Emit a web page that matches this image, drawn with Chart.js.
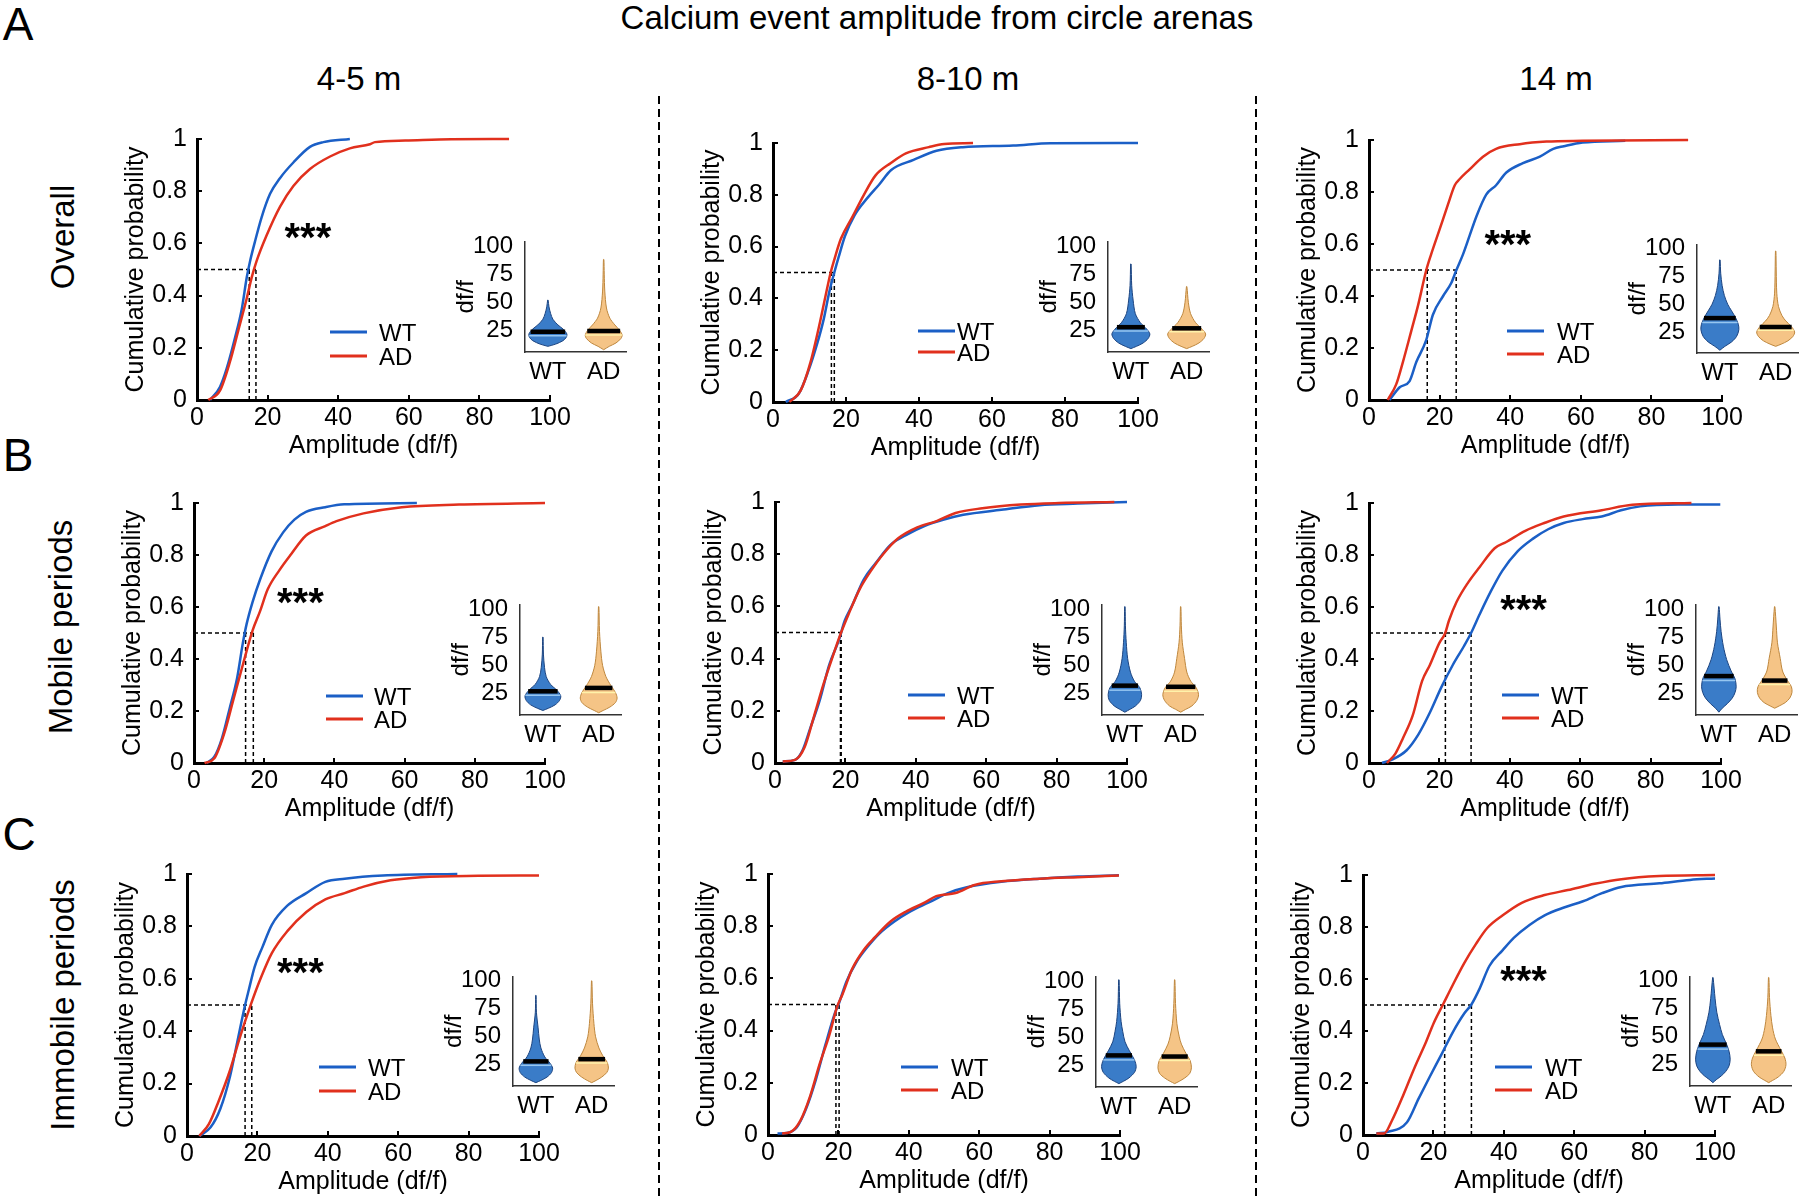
<!DOCTYPE html>
<html>
<head>
<meta charset="utf-8">
<script src="https://cdn.jsdelivr.net/npm/chart.js@4.4.0/dist/chart.umd.min.js"></script>
<style>
	body { margin: 0; background: #fff; }
	#fig { position: relative; width: 1800px; height: 1198px; overflow: hidden; background: #fff;
		font-family: "Liberation Sans", Arial, sans-serif; color: #000; }
	.lbl { position: absolute; white-space: nowrap; line-height: 1; }
	canvas { position: absolute; }
	.sep { position: absolute; width: 2px;
		background: repeating-linear-gradient(to bottom, #000 0 8px, transparent 8px 13px); }
</style>
</head>
<body>
<div id="fig"></div>
<script>
// ---- axis / category data ----
const groups = ["WT", "AD"];
const ampTicks = [0, 20, 40, 60, 80, 100];
const probTicks = [0, 0.2, 0.4, 0.6, 0.8, 1];
const dffTicks = [25, 50, 75, 100];
const rowNames = ["Overall", "Mobile periods", "Immobile periods"];
const colNames = ["4-5 m", "8-10 m", "14 m"];

// ---- A: overall ----
const a1WtAmp = [3.7, 6.5, 8.4, 10.8, 12.7, 14.1, 15.0, 16.4, 18.3, 20.7, 23.5, 27.3, 32.0, 35.8, 43.3];
const a1WtProb = [0, 0.05, 0.12, 0.24, 0.35, 0.47, 0.53, 0.606, 0.70, 0.79, 0.85, 0.91, 0.97, 0.988, 1];
const a1AdAmp = [3.2, 6.5, 9.3, 11.7, 14.1, 15.5, 16.9, 19.7, 23.5, 27.3, 32.0, 37.7, 43.3, 49.0, 50.4, 59.0, 72.0, 88.4];
const a1AdProb = [0, 0.036, 0.145, 0.267, 0.39, 0.47, 0.533, 0.63, 0.74, 0.82, 0.885, 0.933, 0.964, 0.98, 0.988, 0.994, 0.999, 1];
const a1Median = [14.8, 16.7];

const a2WtAmp = [3.5, 7.1, 9.7, 12.0, 13.9, 15.5, 16.8, 18.0, 19.7, 22.3, 26.0, 29.1, 32.3, 38.5, 44.8, 52.0, 65.8, 76.0, 100];
const a2WtProb = [0, 0.033, 0.12, 0.22, 0.32, 0.43, 0.5, 0.56, 0.64, 0.72, 0.79, 0.84, 0.895, 0.935, 0.97, 0.984, 0.99, 0.999, 1];
const a2AdAmp = [4.5, 7.6, 10.3, 12.9, 15.0, 15.8, 16.8, 18.6, 21.8, 24.9, 28.1, 32.3, 36.4, 42.7, 46.9, 54.8];
const a2AdProb = [0, 0.045, 0.155, 0.31, 0.45, 0.5, 0.55, 0.63, 0.716, 0.8, 0.875, 0.923, 0.96, 0.984, 0.996, 1];
const a2Median = [16.8, 16.0];

const a3WtAmp = [5.8, 8.7, 11.5, 13.4, 16.2, 18.1, 21.0, 23.3, 24.7, 26.6, 28.5, 30.4, 33.2, 36.0, 38.9, 43.6, 48.4, 52.2, 55.2, 60.5, 72.6];
const a3WtProb = [0, 0.049, 0.073, 0.146, 0.23, 0.328, 0.4, 0.45, 0.498, 0.559, 0.632, 0.705, 0.79, 0.826, 0.875, 0.911, 0.936, 0.966, 0.976, 0.99, 0.997];
const a3AdAmp = [5.3, 7.7, 9.6, 12.0, 13.9, 16.2, 17.6, 20.0, 22.4, 24.3, 25.7, 28.5, 32.3, 36.0, 42.7, 50.3, 60.5, 90.4];
const a3AdProb = [0, 0.06, 0.146, 0.267, 0.364, 0.498, 0.56, 0.656, 0.753, 0.826, 0.85, 0.887, 0.936, 0.966, 0.984, 0.994, 0.997, 1];
const a3Median = [24.7, 16.5];

// ---- B: mobile periods ----
const b1WtAmp = [3.6, 5.8, 8.0, 10.1, 12.3, 13.9, 15.0, 16.7, 18.8, 22.1, 25.4, 28.6, 31.9, 37.4, 42.8, 63.5];
const b1WtProb = [0, 0.024, 0.097, 0.207, 0.328, 0.46, 0.535, 0.62, 0.705, 0.814, 0.887, 0.936, 0.966, 0.984, 0.995, 1];
const b1AdAmp = [3.0, 5.8, 8.5, 11.2, 13.9, 16.7, 18.8, 21.0, 24.3, 27.6, 31.9, 37.4, 40.6, 48.3, 59.2, 75.5, 100];
const b1AdProb = [0, 0.018, 0.109, 0.243, 0.377, 0.51, 0.583, 0.668, 0.741, 0.802, 0.875, 0.911, 0.93, 0.96, 0.984, 0.994, 1];
const b1Median = [14.7, 16.9];

const b2WtAmp = [2.2, 5.7, 7.8, 10.0, 12.7, 15.4, 18.2, 19.8, 22.0, 25.2, 28.5, 32.8, 37.2, 42.6, 48.0, 53.5, 64.3, 75.2, 86.0, 100];
const b2WtProb = [0.006, 0.012, 0.048, 0.133, 0.24, 0.376, 0.473, 0.545, 0.606, 0.703, 0.764, 0.836, 0.873, 0.909, 0.933, 0.951, 0.97, 0.988, 0.994, 1];
const b2AdAmp = [2.2, 5.7, 8.4, 11.1, 13.8, 16.5, 18.7, 20.9, 24.1, 27.4, 30.7, 35.0, 40.4, 45.9, 51.3, 58.9, 69.8, 80.7, 96.4];
const b2AdProb = [0.006, 0.012, 0.06, 0.18, 0.303, 0.412, 0.497, 0.57, 0.667, 0.739, 0.8, 0.861, 0.903, 0.927, 0.958, 0.976, 0.99, 0.996, 1];
const b2Median = [18.8, 18.6];

const b3WtAmp = [3.7, 6.4, 10.7, 14.0, 17.3, 20.5, 23.8, 27.0, 29.0, 31.4, 34.6, 37.9, 42.2, 46.6, 50.9, 55.3, 60.7, 66.1, 71.6, 77.0, 87.8, 99.8];
const b3WtProb = [0, 0.012, 0.049, 0.109, 0.194, 0.29, 0.377, 0.45, 0.5, 0.571, 0.66, 0.74, 0.814, 0.863, 0.899, 0.923, 0.938, 0.948, 0.972, 0.987, 0.994, 0.994];
const b3AdAmp = [5.1, 7.5, 9.7, 12.4, 15.1, 17.3, 20.0, 21.6, 22.7, 24.9, 28.1, 31.4, 35.7, 39.0, 44.4, 49.8, 55.3, 66.1, 74.8, 91.6];
const b3AdProb = [0, 0.036, 0.097, 0.182, 0.316, 0.377, 0.462, 0.498, 0.547, 0.62, 0.693, 0.753, 0.826, 0.85, 0.893, 0.923, 0.948, 0.972, 0.993, 1];
const b3Median = [29.0, 21.7];

// ---- C: immobile periods ----
const c1WtAmp = [3.5, 6.7, 9.5, 12.2, 14.3, 16.5, 17.6, 19.2, 21.4, 24.1, 28.5, 33.9, 39.3, 44.8, 55.7, 76.8];
const c1WtProb = [0, 0.033, 0.105, 0.226, 0.36, 0.5, 0.56, 0.645, 0.72, 0.806, 0.879, 0.927, 0.97, 0.982, 0.994, 1];
const c1AdAmp = [3.5, 6.2, 8.9, 12.2, 14.9, 18.2, 20.9, 24.1, 28.5, 33.9, 39.3, 44.8, 50.2, 57.8, 66.5, 82.8, 100];
const c1AdProb = [0, 0.045, 0.13, 0.25, 0.371, 0.504, 0.601, 0.698, 0.782, 0.855, 0.903, 0.927, 0.952, 0.976, 0.988, 0.993, 0.994];
const c1Median = [16.5, 18.4];

const c2WtAmp = [2.7, 5.4, 8.2, 10.9, 13.6, 16.3, 19.0, 20.1, 22.3, 25.0, 28.3, 31.5, 35.9, 40.2, 45.7, 51.1, 56.5, 66.3, 77.2, 88.0, 99.7];
const c2WtProb = [0.006, 0.008, 0.03, 0.103, 0.212, 0.345, 0.467, 0.503, 0.588, 0.66, 0.721, 0.77, 0.818, 0.855, 0.891, 0.927, 0.949, 0.97, 0.982, 0.99, 0.995];
const c2AdAmp = [4.0, 6.5, 9.2, 12.0, 14.7, 17.4, 19.6, 21.2, 23.9, 27.2, 30.4, 34.8, 39.1, 44.6, 47.8, 53.3, 58.7, 66.3, 77.2, 88.0, 99.7];
const c2AdProb = [0.006, 0.012, 0.055, 0.15, 0.273, 0.382, 0.49, 0.54, 0.636, 0.709, 0.758, 0.818, 0.855, 0.891, 0.915, 0.927, 0.958, 0.972, 0.982, 0.988, 0.994];
const c2Median = [20.2, 19.3];

const c3WtAmp = [3.8, 7.1, 12.5, 15.8, 19.0, 22.3, 25.5, 28.8, 30.8, 33.2, 35.9, 39.7, 42.9, 47.3, 51.6, 57.1, 62.5, 67.9, 73.4, 84.2, 92.9, 100];
const c3WtProb = [0.006, 0.012, 0.049, 0.14, 0.225, 0.31, 0.395, 0.468, 0.502, 0.565, 0.65, 0.711, 0.759, 0.808, 0.845, 0.875, 0.899, 0.93, 0.954, 0.968, 0.981, 0.987];
const c3AdAmp = [3.8, 6.0, 8.2, 11.4, 14.7, 17.9, 20.1, 22.8, 25.5, 28.8, 32.1, 35.3, 39.7, 45.1, 51.6, 58.2, 65.8, 73.4, 84.2, 100];
const c3AdProb = [0.006, 0.006, 0.055, 0.152, 0.261, 0.358, 0.431, 0.504, 0.577, 0.662, 0.735, 0.796, 0.845, 0.893, 0.923, 0.942, 0.966, 0.984, 0.996, 1];
const c3Median = [30.8, 23.2];

// ---- violin insets: df/f levels, half widths, median bar, light line ----
const a1WtVioV = [11, 13, 16, 19, 22, 26, 30, 35, 40, 46, 52];
const a1WtVioW = [0, 0.14, 0.27, 0.33, 0.34, 0.28, 0.18, 0.09, 0.05, 0.02, 0.004];
const a1AdVioV = [8, 11, 14, 18, 21, 25, 30, 36, 45, 60, 75, 88];
const a1AdVioW = [0, 0.1, 0.22, 0.31, 0.33, 0.29, 0.2, 0.11, 0.05, 0.02, 0.01, 0.004];
const a1Bars = [24, 24.5];
const a1Light = [20.5, 21];

const a2WtVioV = [9, 11, 14, 18, 22, 26, 32, 40, 52, 65, 84];
const a2WtVioW = [0, 0.1, 0.22, 0.31, 0.34, 0.29, 0.17, 0.08, 0.04, 0.015, 0.004];
const a2AdVioV = [9, 11, 14, 18, 22, 26, 32, 40, 50, 64];
const a2AdVioW = [0, 0.1, 0.22, 0.31, 0.34, 0.28, 0.16, 0.07, 0.03, 0.004];
const a2Bars = [28, 27];
const a2Light = [24.5, 24];

const a3WtVioV = [8.5, 12, 16, 21, 27, 32, 38, 44, 50, 58, 67, 78, 90];
const a3WtVioW = [0, 0.09, 0.21, 0.3, 0.34, 0.33, 0.28, 0.21, 0.14, 0.08, 0.04, 0.015, 0.004];
const a3AdVioV = [12, 14, 17, 21, 25, 30, 35, 40, 48, 60, 80, 98];
const a3AdVioW = [0, 0.1, 0.22, 0.31, 0.34, 0.28, 0.18, 0.11, 0.05, 0.02, 0.01, 0.004];
const a3Bars = [37.5, 29.5];
const a3Light = [33.5, 26.5];

const b1WtVioV = [10, 12, 15, 19, 23, 28, 33, 40, 48, 60, 75];
const b1WtVioW = [0, 0.1, 0.22, 0.3, 0.32, 0.25, 0.14, 0.06, 0.03, 0.01, 0.004];
const b1AdVioV = [8, 10, 13, 17, 21, 26, 32, 40, 50, 62, 80, 102];
const b1AdVioW = [0, 0.08, 0.2, 0.3, 0.33, 0.3, 0.22, 0.13, 0.07, 0.04, 0.015, 0.004];
const b1Bars = [27, 30];
const b1Light = [23.5, 26];

const b2WtVioV = [8.5, 11, 14, 19, 24, 30, 36, 44, 56, 70, 85, 102];
const b2WtVioW = [0, 0.09, 0.19, 0.28, 0.3, 0.27, 0.17, 0.1, 0.05, 0.025, 0.01, 0.004];
const b2AdVioV = [8.5, 11, 14, 19, 24, 30, 36, 44, 56, 70, 85, 102];
const b2AdVioW = [0, 0.09, 0.2, 0.29, 0.32, 0.28, 0.18, 0.11, 0.07, 0.03, 0.012, 0.004];
const b2Bars = [32, 31];
const b2Light = [28, 27];

const b3WtVioV = [8.5, 12, 16, 21, 26, 31, 38, 45, 55, 67, 80, 91, 102];
const b3WtVioW = [0, 0.06, 0.15, 0.24, 0.29, 0.31, 0.29, 0.22, 0.14, 0.08, 0.04, 0.02, 0.004];
const b3AdVioV = [12, 14, 17, 21, 26, 31, 38, 45, 56, 70, 84, 102];
const b3AdVioW = [0, 0.08, 0.19, 0.27, 0.31, 0.3, 0.21, 0.14, 0.1, 0.05, 0.03, 0.004];
const b3Bars = [40.5, 36.5];
const b3Light = [36.5, 33];

const c1WtVioV = [9, 11, 14, 18, 22, 26, 32, 40, 48, 58, 72, 87];
const c1WtVioW = [0, 0.09, 0.2, 0.28, 0.3, 0.26, 0.16, 0.09, 0.06, 0.04, 0.01, 0.004];
const c1AdVioV = [9, 11, 14, 18, 22, 27, 33, 40, 50, 62, 80, 100];
const c1AdVioW = [0, 0.08, 0.18, 0.27, 0.3, 0.28, 0.2, 0.13, 0.07, 0.04, 0.015, 0.004];
const c1Bars = [28, 30];
const c1Light = [24.5, 26.5];

const c2WtVioV = [9, 11, 14, 19, 24, 30, 38, 46, 55, 64, 80, 101];
const c2WtVioW = [0, 0.08, 0.18, 0.28, 0.31, 0.28, 0.19, 0.11, 0.07, 0.04, 0.015, 0.004];
const c2AdVioV = [9, 11, 14, 18, 23, 29, 36, 44, 51, 62, 80, 101];
const c2AdVioW = [0, 0.08, 0.18, 0.27, 0.3, 0.28, 0.2, 0.12, 0.08, 0.04, 0.015, 0.004];
const c2Bars = [34, 33];
const c2Light = [30, 29.5];

const c3WtVioV = [9, 12, 15, 19, 24, 30, 37, 44, 52, 61, 72, 84, 103];
const c3WtVioW = [0, 0.07, 0.15, 0.23, 0.29, 0.31, 0.29, 0.24, 0.17, 0.12, 0.07, 0.04, 0.004];
const c3AdVioV = [9, 11, 14, 19, 25, 31, 38, 48, 58, 69, 85, 103];
const c3AdVioW = [0, 0.07, 0.17, 0.27, 0.31, 0.29, 0.22, 0.12, 0.07, 0.04, 0.015, 0.004];
const c3Bars = [43, 37];
const c3Light = [39, 33.5];

// panels in reading order (row A, B, C; columns 4-5 m, 8-10 m, 14 m)
const panels = [
	{ wt: [a1WtAmp, a1WtProb], ad: [a1AdAmp, a1AdProb], med: a1Median, vio: [[a1WtVioV, a1WtVioW], [a1AdVioV, a1AdVioW]], bars: a1Bars, light: a1Light },
	{ wt: [a2WtAmp, a2WtProb], ad: [a2AdAmp, a2AdProb], med: a2Median, vio: [[a2WtVioV, a2WtVioW], [a2AdVioV, a2AdVioW]], bars: a2Bars, light: a2Light },
	{ wt: [a3WtAmp, a3WtProb], ad: [a3AdAmp, a3AdProb], med: a3Median, vio: [[a3WtVioV, a3WtVioW], [a3AdVioV, a3AdVioW]], bars: a3Bars, light: a3Light },
	{ wt: [b1WtAmp, b1WtProb], ad: [b1AdAmp, b1AdProb], med: b1Median, vio: [[b1WtVioV, b1WtVioW], [b1AdVioV, b1AdVioW]], bars: b1Bars, light: b1Light },
	{ wt: [b2WtAmp, b2WtProb], ad: [b2AdAmp, b2AdProb], med: b2Median, vio: [[b2WtVioV, b2WtVioW], [b2AdVioV, b2AdVioW]], bars: b2Bars, light: b2Light },
	{ wt: [b3WtAmp, b3WtProb], ad: [b3AdAmp, b3AdProb], med: b3Median, vio: [[b3WtVioV, b3WtVioW], [b3AdVioV, b3AdVioW]], bars: b3Bars, light: b3Light },
	{ wt: [c1WtAmp, c1WtProb], ad: [c1AdAmp, c1AdProb], med: c1Median, vio: [[c1WtVioV, c1WtVioW], [c1AdVioV, c1AdVioW]], bars: c1Bars, light: c1Light },
	{ wt: [c2WtAmp, c2WtProb], ad: [c2AdAmp, c2AdProb], med: c2Median, vio: [[c2WtVioV, c2WtVioW], [c2AdVioV, c2AdVioW]], bars: c2Bars, light: c2Light },
	{ wt: [c3WtAmp, c3WtProb], ad: [c3AdAmp, c3AdProb], med: c3Median, vio: [[c3WtVioV, c3WtVioW], [c3AdVioV, c3AdVioW]], bars: c3Bars, light: c3Light },
];

// page placement of each panel: plot box [left, right, top, bottom], inset [axisX, top, bottom]
const layout = [
	{ box: [197, 550, 125, 400], inset: [525, 227, 352], legX: 133, legGap: 12, legDy: [68, 44], stars: [31.4, 0.655] },
	{ box: [773, 1138, 129, 402], inset: [1108, 227, 352], legX: 145, legGap: 2, legDy: [71, 50], stars: null },
	{ box: [1369, 1722, 126, 400], inset: [1697, 230, 353], legX: 138, legGap: 13, legDy: [69, 46], stars: [39.3, 0.632] },
	{ box: [194, 545, 489, 763], inset: [520, 590, 715], legX: 132, legGap: 11, legDy: [67, 44], stars: [30.3, 0.65] },
	{ box: [775, 1127, 488, 763], inset: [1102, 590, 715], legX: 133, legGap: 12, legDy: [68, 45], stars: null },
	{ box: [1369, 1721, 489, 763], inset: [1696, 590, 715], legX: 133, legGap: 12, legDy: [68, 45], stars: [43.9, 0.625] },
	{ box: [187, 539, 860, 1136], inset: [513, 962, 1086], legX: 132, legGap: 12, legDy: [69, 45], stars: [32.2, 0.656] },
	{ box: [768, 1120, 860, 1135], inset: [1096, 962, 1087], legX: 133, legGap: 13, legDy: [68, 45], stars: null },
	{ box: [1363, 1715, 861, 1135], inset: [1690, 962, 1086], legX: 132, legGap: 13, legDy: [68, 45], stars: [45.6, 0.626] },
];

const FONT = '"Liberation Sans", Arial, sans-serif';
const LINE_COL = ["#1b5fc6", "#e1301d"];
const VIO_FILL = ["rgb(58,124,200)", "rgb(245,196,134)"];
const VIO_EDGE = ["rgb(28,68,128)", "rgb(190,135,62)"];
const VIO_LIGHT = ["rgb(150,198,240)", "rgb(255,242,170)"];

Chart.defaults.font.family = FONT;
Chart.defaults.color = "#000";
Chart.defaults.animation = false;
Chart.defaults.plugins.legend.display = false;
Chart.defaults.plugins.tooltip.enabled = false;

const fig = document.getElementById("fig");

function addCanvas(x, y, w, h) {
	const cv = document.createElement("canvas");
	cv.width = w;
	cv.height = h;
	cv.style.left = x + "px";
	cv.style.top = y + "px";
	cv.style.width = w + "px";
	cv.style.height = h + "px";
	fig.appendChild(cv);
	return cv;
}

function label(text, x, y, size, rotate) {
	const el = document.createElement("div");
	el.className = "lbl";
	el.textContent = text;
	el.style.fontSize = size + "px";
	el.style.left = x + "px";
	el.style.top = y + "px";
	el.style.transform = "translate(-50%,-50%)" + (rotate ? " rotate(-90deg)" : "");
	fig.appendChild(el);
}

function toPts(xs, ys) {
	return xs.map((x, i) => ({ x: x, y: ys[i] }));
}

// outline of a violin: up the right side, back down the left side
function violinPts(c, v, w) {
	const right = v.map((y, i) => ({ x: c + w[i], y: y }));
	const left = v.map((y, i) => ({ x: c - w[i], y: y })).reverse();
	return right.concat(left);
}

function widthAt(v, w, y) {
	for (let i = 1; i < v.length; i++) {
		if (y <= v[i]) {
			const t = (y - v[i - 1]) / (v[i] - v[i - 1]);
			return w[i - 1] + t * (w[i] - w[i - 1]);
		}
	}
	return 0;
}

// legend lines + significance stars
const decor = {
	id: "decor",
	afterDatasetsDraw(chart, args, opts) {
		const ctx = chart.ctx;
		const area = chart.chartArea;
		ctx.save();
		if (opts.legX != null) {
			chart.data.datasets.filter((d) => groups.includes(d.label)).forEach((d, i) => {
				const x = area.left + opts.legX;
				const y = area.bottom - opts.legDy[i];
				ctx.strokeStyle = d.borderColor;
				ctx.lineWidth = 3;
				ctx.beginPath();
				ctx.moveTo(x, y);
				ctx.lineTo(x + 37, y);
				ctx.stroke();
				ctx.fillStyle = "#000";
				ctx.font = "24px " + FONT;
				ctx.textAlign = "left";
				ctx.textBaseline = "alphabetic";
				ctx.fillText(d.label, x + 37 + opts.legGap, y + 8.6);
			});
		}
		if (opts.stars) {
			const sx = chart.scales.x.getPixelForValue(opts.stars[0]);
			const sy = chart.scales.y.getPixelForValue(opts.stars[1]);
			ctx.fillStyle = "#000";
			ctx.font = "bold 40px " + FONT;
			ctx.textAlign = "center";
			ctx.textBaseline = "alphabetic";
			ctx.fillText("***", sx, sy + 22);
		}
		ctx.restore();
	},
};

function makeCdf(i) {
	const L = layout[i];
	const d = panels[i];
	const yW = 100, xH = 70, padT = 16, padR = 30;
	const w = L.box[1] - L.box[0];
	const h = L.box[3] - L.box[2];
	const cv = addCanvas(L.box[0] - yW, L.box[2] - padT, yW + w + padR, padT + h + xH);
	const far = Math.max(d.med[0], d.med[1]);
	const dash = (pts) => ({ data: pts, showLine: true, borderColor: "#000", borderWidth: 1.5, borderDash: [4, 3], pointRadius: 0, order: 2, clip: false });
	const curve = (lbl, xy, col, order) => ({ label: lbl, data: toPts(xy[0], xy[1]), showLine: true, cubicInterpolationMode: "monotone",
		borderColor: col, borderWidth: 2.5, pointRadius: 0, order: order, clip: 4 });
	const datasets = [
		curve("WT", d.wt, LINE_COL[0], 1),
		curve("AD", d.ad, LINE_COL[1], 0),
		dash([{ x: 0, y: 0.5 }, { x: far, y: 0.5 }]),
		dash([{ x: d.med[0], y: 0 }, { x: d.med[0], y: 0.5 }]),
		dash([{ x: d.med[1], y: 0 }, { x: d.med[1], y: 0.5 }]),
	];
	new Chart(cv, {
		type: "scatter",
		data: { datasets: datasets },
		plugins: [decor],
		options: {
			responsive: false,
			layout: { padding: { left: 0, top: padT, right: padR, bottom: 0 } },
			plugins: { decor: { legX: L.legX, legGap: L.legGap, legDy: L.legDy, stars: L.stars } },
			scales: {
				x: {
					type: "linear", min: 0, max: 100,
					afterFit: (s) => { s.height = xH; },
					afterBuildTicks: (s) => { s.ticks = ampTicks.map((v) => ({ value: v })); },
					ticks: { font: { size: 25 }, padding: 8, maxRotation: 0, color: "#000" },
					grid: { drawOnChartArea: false, drawTicks: true, tickLength: -5, color: "#000", lineWidth: 2 },
					border: { color: "#000", width: 3 },
					title: { display: true, text: "Amplitude (df/f)", font: { size: 25 }, color: "#000", padding: { top: 0, bottom: 9 } },
				},
				y: {
					type: "linear", min: 0, max: 1,
					afterFit: (s) => { s.width = yW; },
					afterBuildTicks: (s) => { s.ticks = probTicks.map((v) => ({ value: v })); },
					ticks: { font: { size: 25 }, padding: 15, color: "#000", callback: (v) => String(v) },
					grid: { drawOnChartArea: false, drawTicks: true, tickLength: -5, color: "#000", lineWidth: 2 },
					border: { color: "#000", width: 3 },
					title: { display: true, text: "Cumulative probability", font: { size: 25 }, color: "#000", padding: { top: 24, bottom: 0 } },
				},
			},
		},
	});
}

function makeViolin(i) {
	const L = layout[i];
	const d = panels[i];
	const yW = 80, xH = 44, padT = 12, padR = 12;
	const left = L.inset[0], top = L.inset[1], bottom = L.inset[2];
	const w = 101;
	const h = bottom - top;
	const cv = addCanvas(left - yW, top - padT, yW + w + padR, padT + h + xH);
	const datasets = [];
	d.vio.forEach((v, k) => {
		const c = k + 0.5;
		datasets.push({ data: violinPts(c, v[0], v[1]), showLine: true, fill: "shape", tension: 0.3,
			backgroundColor: VIO_FILL[k], borderColor: VIO_EDGE[k], borderWidth: 1, pointRadius: 0, clip: false, order: 2 });
		const wl = widthAt(v[0], v[1], d.light[k]);
		datasets.push({ data: [{ x: c - wl, y: d.light[k] }, { x: c + wl, y: d.light[k] }], showLine: true,
			borderColor: VIO_LIGHT[k], borderWidth: 1.5, pointRadius: 0, clip: false, order: 1 });
		const wb = widthAt(v[0], v[1], d.bars[k]);
		datasets.push({ data: [{ x: c - wb, y: d.bars[k] }, { x: c + wb, y: d.bars[k] }], showLine: true,
			borderColor: "#000", borderWidth: 4.5, pointRadius: 0, clip: false, order: 0 });
	});
	new Chart(cv, {
		type: "scatter",
		data: { datasets: datasets },
		options: {
			responsive: false,
			layout: { padding: { left: 0, top: padT, right: padR, bottom: 0 } },
			scales: {
				x: {
					type: "linear", min: 0.09, max: 1.9,
					afterFit: (s) => { s.height = xH; },
					afterBuildTicks: (s) => { s.ticks = [{ value: 0.5 }, { value: 1.5 }]; },
					ticks: { font: { size: 24 }, padding: 6, maxRotation: 0, color: "#000", callback: (v, idx) => groups[idx] },
					grid: { display: false, drawTicks: false },
					border: { color: "#333", width: 1.5 },
				},
				y: {
					type: "linear", min: 6, max: 104,
					afterFit: (s) => { s.width = yW; },
					afterBuildTicks: (s) => { s.ticks = dffTicks.map((v) => ({ value: v })); },
					ticks: { font: { size: 24 }, padding: 12, color: "#000" },
					grid: { display: false, drawTicks: false },
					border: { color: "#333", width: 1.5 },
					title: { display: true, text: "df/f", font: { size: 24 }, color: "#000", padding: { top: 7, bottom: 0 } },
				},
			},
		},
	});
}

// dashed separators between the age columns
[659, 1256].forEach((x) => {
	const s = document.createElement("div");
	s.className = "sep";
	s.style.left = (x - 1) + "px";
	s.style.top = "96px";
	s.style.height = "1102px";
	fig.appendChild(s);
});

for (let i = 0; i < panels.length; i++) {
	makeCdf(i);
	makeViolin(i);
}

// titles and row / column labels
label("Calcium event amplitude from circle arenas", 937, 17, 33);
label(colNames[0], 359, 78, 33);
label(colNames[1], 968, 78, 33);
label(colNames[2], 1556, 78, 33);
label(rowNames[0], 62, 237, 33, true);
label(rowNames[1], 60, 627, 33, true);
label(rowNames[2], 62, 1005, 33, true);
label("A", 18, 24, 46);
label("B", 18, 455, 46);
label("C", 19, 834, 46);
</script>
</body>
</html>
